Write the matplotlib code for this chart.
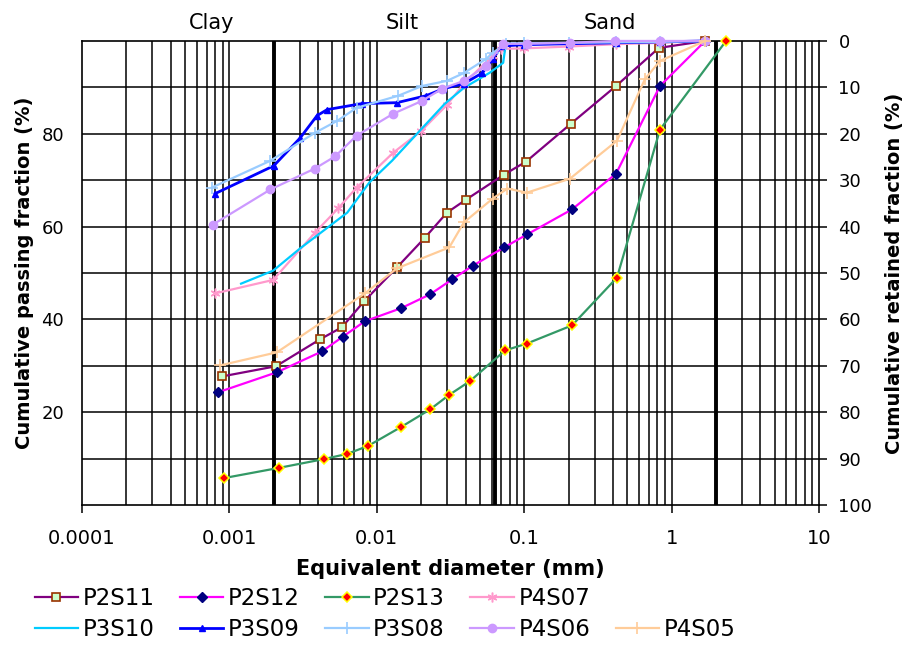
import numpy as np
import matplotlib
matplotlib.use("Agg")
import matplotlib.pyplot as plt
from matplotlib.lines import Line2D

plt.rcParams['font.family'] = ['DejaVu Sans']

# ---- data (diameter mm, cumulative passing %) ----
p2s11_d = [0.00089, 0.00207, 0.00412, 0.0058, 0.0082, 0.0137, 0.0212, 0.0299, 0.0403, 0.073, 0.103, 0.208, 0.42, 0.82, 1.69]
p2s11_p = [27.7, 29.9, 35.7, 38.3, 43.9, 51.2, 57.6, 63.0, 65.8, 71.2, 74.0, 82.2, 90.3, 98.5, 100]

p2s12_d = [0.00084, 0.0021, 0.00425, 0.0059, 0.0083, 0.0146, 0.023, 0.0324, 0.045, 0.073, 0.1045, 0.211, 0.42, 0.834, 1.69]
p2s12_p = [24.3, 28.6, 33.1, 36.3, 39.6, 42.4, 45.4, 48.6, 51.6, 55.5, 58.3, 63.7, 71.4, 90.3, 100]

p2s13_d = [0.00092, 0.00217, 0.00439, 0.00628, 0.0087, 0.0146, 0.023, 0.0309, 0.0429, 0.0741, 0.1045, 0.211, 0.426, 0.834, 2.34]
p2s13_p = [5.8, 8.0, 9.9, 11.0, 12.7, 16.8, 20.6, 23.7, 26.7, 33.3, 34.8, 38.7, 49.0, 80.9, 100]

p4s07_d = [0.0008, 0.00198, 0.00381, 0.00546, 0.0073, 0.0129, 0.02, 0.0299, 0.039, 0.061, 0.07, 0.1, 0.2, 0.42, 0.83, 1.69]
p4s07_p = [45.6, 48.5, 58.7, 63.9, 68.4, 75.9, 80.6, 86.2, 90.8, 96.8, 98.3, 98.4, 98.8, 99.3, 99.6, 100]

p3s10_d = [0.0012, 0.00198, 0.00302, 0.0063, 0.0089, 0.0127, 0.019, 0.029, 0.039, 0.058, 0.072, 0.075, 0.1, 0.2, 0.42, 0.83, 1.69]
p3s10_p = [47.7, 50.5, 55.3, 63.0, 69.5, 74.2, 80.2, 86.5, 89.9, 93.1, 95.3, 99.4, 99.4, 99.5, 99.7, 99.8, 100]

p3s09_d = [0.0008, 0.002, 0.00302, 0.00393, 0.0046, 0.0079, 0.0137, 0.0216, 0.0282, 0.039, 0.052, 0.061, 0.07, 0.1, 0.2, 0.42, 0.83, 1.69]
p3s09_p = [67.1, 73.1, 79.1, 83.9, 85.2, 86.5, 86.7, 88.2, 89.7, 90.8, 93.1, 96.1, 98.9, 99.2, 99.4, 99.6, 99.8, 100]

p3s08_d = [0.00076, 0.0019, 0.0038, 0.0054, 0.0073, 0.014, 0.0203, 0.0299, 0.039, 0.055, 0.061, 0.075, 0.1, 0.2, 0.42, 0.83, 1.69]
p3s08_p = [68.4, 74.2, 80.2, 82.8, 85.6, 88.2, 90.3, 91.4, 93.1, 96.1, 97.4, 99.4, 99.5, 99.6, 99.7, 99.8, 100]

p4s06_d = [0.00077, 0.0019, 0.0038, 0.0052, 0.0073, 0.0129, 0.0203, 0.0277, 0.039, 0.055, 0.072, 0.104, 0.204, 0.41, 0.83, 1.69]
p4s06_p = [60.4, 68.0, 72.5, 75.1, 79.6, 84.3, 87.1, 89.7, 91.4, 94.6, 99.4, 99.4, 99.6, 100, 100, 100]

p4s05_d = [0.00087, 0.0021, 0.0083, 0.0137, 0.031, 0.039, 0.061, 0.077, 0.104, 0.204, 0.426, 0.66, 0.834, 1.69]
p4s05_p = [30.1, 32.9, 45.6, 51.0, 55.5, 60.9, 66.0, 68.2, 67.3, 70.3, 78.5, 91.8, 95.7, 100]

x_ticks = [0.0001, 0.001, 0.01, 0.1, 1, 10]
x_ticklabels = ["0.0001", "0.001", "0.01", "0.1", "1", "10"]
left_ticks = [20, 40, 60, 80]
right_ticks = list(range(0, 101, 10))
boundaries = [0.002, 0.063, 2.0]
zone_labels = ["Clay", "Silt", "Sand"]
zone_pos = [0.00076, 0.0148, 0.383]

fig = plt.figure(figsize=(9.09, 6.47), dpi=100)
ax = fig.add_axes([0.0902, 0.2195, 0.8108, 0.7172])

ax.set_xscale('log')
ax.set_xlim(0.0001, 10)
ax.set_ylim(0, 100)

# grid
for k in range(-4, 1):
    for m in range(1, 10):
        v = m * 10.0 ** k
        if v > 0.0001:
            ax.axvline(v, color='black', lw=1.1, zorder=1)
for yv in range(10, 100, 10):
    ax.axhline(yv, color='black', lw=1.1, zorder=1)
for b in boundaries:
    ax.axvline(b, color='black', lw=2.8, zorder=2)

series = [
    ("P2S11", p2s11_d, p2s11_p, dict(color='#800080', marker='s', ms=6, mfc='#CCFFCC', mec='#993300', mew=1.2)),
    ("P2S12", p2s12_d, p2s12_p, dict(color='#FF00FF', marker='D', ms=5, mfc='#000080', mec='#000080')),
    ("P2S13", p2s13_d, p2s13_p, dict(color='#339966', marker='D', ms=5, mfc='#FF0000', mec='#FFFF00', mew=1.1)),
    ("P4S07", p4s07_d, p4s07_p, dict(color='#FF99CC', marker=(6, 2, 0), ms=7, mec='#FF99CC', mew=1.1)),
    ("P3S10", p3s10_d, p3s10_p, dict(color='#00CCFF', marker=None)),
    ("P3S09", p3s09_d, p3s09_p, dict(color='#0000FF', marker='^', ms=4, mfc='#0000FF', mec='#0000FF')),
    ("P3S08", p3s08_d, p3s08_p, dict(color='#99CCFF', marker='+', ms=8, mec='#99CCFF', mew=1.2)),
    ("P4S06", p4s06_d, p4s06_p, dict(color='#CC99FF', marker='o', ms=6, mfc='#CC99FF', mec='#CC99FF')),
    ("P4S05", p4s05_d, p4s05_p, dict(color='#FFCC99', marker='+', ms=8, mec='#FFCC99', mew=1.2)),
]
handles = {}
for name, d, p, st in series:
    lw = 2.0 if name == "P3S09" else 1.6
    ln, = ax.plot(d, p, lw=lw, label=name, zorder=3, clip_on=False, **st)
    handles[name] = ln

ax.set_xticks(x_ticks)
ax.set_xticklabels(x_ticklabels, fontsize=14)
ax.xaxis.set_minor_locator(matplotlib.ticker.NullLocator())
ax.set_yticks(left_ticks)
ax.set_yticklabels([str(t) for t in left_ticks], fontsize=13)
ax.tick_params(axis='x', length=6, width=1.1, direction='out', pad=11)
ax.tick_params(axis='y', length=0, pad=13)
for s in ax.spines.values():
    s.set_color('black'); s.set_linewidth(1.2)

ax.set_xlabel("Equivalent diameter (mm)", fontsize=15, fontweight='bold', labelpad=8)
ax.set_ylabel("Cumulative passing fraction (%)", fontsize=14, fontweight='bold', labelpad=5)

ax2 = ax.twinx()
ax2.set_ylim(100, 0)
ax2.set_yticks(right_ticks)
ax2.set_yticklabels([str(t) for t in right_ticks], fontsize=13)
ax2.tick_params(length=6, width=1.1, direction='out', pad=8)
ax2.set_ylabel("Cumulative retained fraction (%)", fontsize=14, fontweight='bold', labelpad=9, rotation=90)
for s in ax2.spines.values():
    s.set_visible(False)

for lab, xp in zip(zone_labels, zone_pos):
    ax.text(xp, 101.8, lab, ha='center', va='bottom', fontsize=15)

blank = Line2D([], [], color='none')
order = ["P2S11", "P3S10", "P2S12", "P3S09", "P2S13", "P3S08", "P4S07", "P4S06", None, "P4S05"]
hs = [handles[n] if n else blank for n in order]
ls = [n if n else "" for n in order]
fig.legend(hs, ls, ncol=5, loc='upper left', bbox_to_anchor=(0.038, 0.092),
           frameon=False, fontsize=16.5, handlelength=1.9, handletextpad=0.2,
           columnspacing=1.1, labelspacing=0.35, borderaxespad=0, borderpad=0)

fig.savefig("out.png", dpi=100)
